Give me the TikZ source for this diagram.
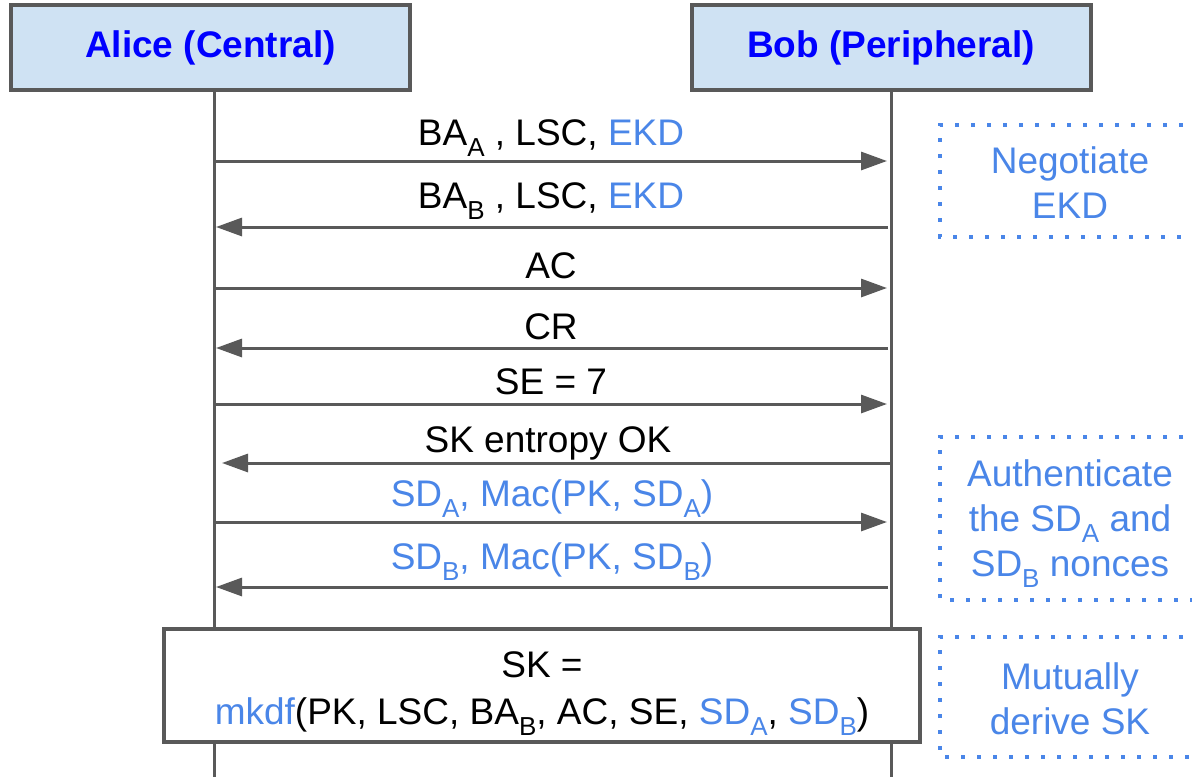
\documentclass[tikz,border=0pt]{standalone}
\usepackage{fontspec}
\setmainfont{Liberation Sans}
\usetikzlibrary{arrows.meta}
\definecolor{linegray}{HTML}{595959}
\definecolor{hdrfill}{HTML}{CFE2F3}
\definecolor{hdrblue}{HTML}{0000FF}
\definecolor{noteblue}{HTML}{4A86E8}
% lowered subscript letter
\newcommand{\lsub}[1]{\raisebox{-0.3em}{\fontsize{26}{26}\selectfont #1}}
\begin{document}
\begin{tikzpicture}[x=1pt,y=-1pt,
  every node/.style={font=\fontsize{37}{45}\selectfont, inner sep=0pt},
  header/.style={draw=linegray, line width=4pt, fill=hdrfill,
    minimum width=399pt, minimum height=85pt,
    font=\fontsize{37}{45}\selectfont\bfseries, text=hdrblue},
  lifeline/.style={draw=linegray, line width=3pt},
  msg/.style={draw=linegray, line width=3pt,
    -{Triangle[length=26pt,width=18pt]}},
  msglabel/.style={anchor=base},
  notebox/.style={draw=noteblue, line width=4pt, dash pattern=on 4pt off 12pt},
  note/.style={text=noteblue, align=center},
  calc/.style={draw=linegray, line width=4pt, fill=white,
    minimum width=756pt, minimum height=113pt},
  calctext/.style={align=center, font=\fontsize{37}{47}\selectfont}]
\clip (0,0) rectangle (1192,777);
\fill[white] (0,0) rectangle (1192,777);

% participants
\node[header] (hdrA) at (210.5,47.5) {Alice (Central)};
\node[header] (hdrB) at (891,47.5) {Bob (Peripheral)};

% lifelines
\coordinate (aTop) at (214,91);
\coordinate (aBot) at (214,777);
\coordinate (bTop) at (891,91);
\coordinate (bBot) at (891,777);
\draw[lifeline] (aTop) -- (aBot);
\draw[lifeline] (bTop) -- (bBot);

% message rows
\foreach \i/\y in {1/161,2/227,3/288,4/348,5/404,6/463,7/522,8/587}{
  \coordinate (a\i) at (214,\y);
  \coordinate (b\i) at (891,\y);
}
\draw[msg, shorten >=4pt] (a1) -- (b1);
\draw[msg, shorten >=2pt, shorten <=3pt] (b2) -- (a2);
\draw[msg, shorten >=4pt] (a3) -- (b3);
\draw[msg, shorten >=2pt, shorten <=3pt] (b4) -- (a4);
\draw[msg, shorten >=4pt] (a5) -- (b5);
\draw[msg, shorten >=8pt] (b6) -- (a6);
\draw[msg, shorten >=4pt] (a7) -- (b7);
\draw[msg, shorten >=2pt, shorten <=3pt] (b8) -- (a8);

\node[msglabel] (m1) at (551,145) {BA\lsub{A} , LSC, \textcolor{noteblue}{EKD}};
\node[msglabel] (m2) at (551,208) {BA\lsub{B} , LSC, \textcolor{noteblue}{EKD}};
\node[msglabel] (m3) at (551,278) {AC};
\node[msglabel] (m4) at (551,339) {CR};
\node[msglabel] (m5) at (551,394) {SE = 7};
\node[msglabel] (m6) at (548,452) {SK entropy OK};
\node[msglabel, text=noteblue] (m7) at (552,506) {SD\lsub{A}, Mac(PK, SD\lsub{A})};
\node[msglabel, text=noteblue] (m8) at (552,569) {SD\lsub{B}, Mac(PK, SD\lsub{B})};

% key derivation
\node[calc] (skbox) at (542,685.5) {};
\node[calctext] (sktext) at ([yshift=-8pt]skbox.center)
  {SK =\\\textcolor{noteblue}{mkdf}(PK, LSC, BA\lsub{B}, AC, SE, \textcolor{noteblue}{SD\lsub{A}}, \textcolor{noteblue}{SD\lsub{B}})};

% phase annotations
\draw[notebox] (1215,125) -- (940,125) -- (940,237) -- (1215,237);
\node[note] (n1) at (1070,182.5) {Negotiate\\EKD};
\draw[notebox] (1215,437) -- (940,437) -- (940,600) -- (1215,600);
\node[note] (n2) at (1070,524) {Authenticate\\the SD\lsub{A} and\\SD\lsub{B} nonces};
\draw[notebox] (1215,637) -- (940,637) -- (940,757) -- (1215,757);
\node[note] (n3) at (1070,699) {Mutually\\derive SK};
\end{tikzpicture}
\end{document}
